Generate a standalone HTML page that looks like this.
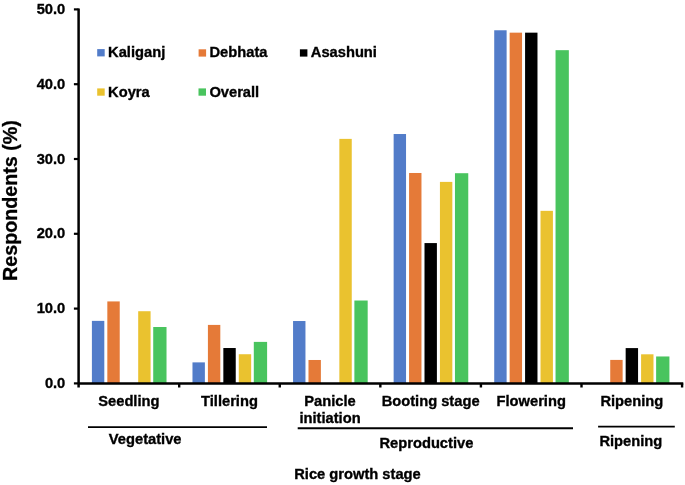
<!DOCTYPE html>
<html><head><meta charset="utf-8"><style>
html,body{margin:0;padding:0;background:#fff;}
body{width:685px;height:485px;overflow:hidden;}
svg{display:block;will-change:transform;}
.t{font-family:"Liberation Sans",sans-serif;font-weight:bold;font-size:14.7px;fill:#000;stroke:#000;stroke-width:0.35px;}
.yt{font-family:"Liberation Sans",sans-serif;font-weight:bold;font-size:19.7px;fill:#000;stroke:#000;stroke-width:0.3px;}
</style></head><body>
<svg width="685" height="485" viewBox="0 0 685 485">
<rect x="91.90" y="320.87" width="12.40" height="62.53" fill="#527CC9"/>
<rect x="107.33" y="301.42" width="12.40" height="81.98" fill="#E57A38"/>
<rect x="138.19" y="311.22" width="12.40" height="72.18" fill="#EAC22F"/>
<rect x="153.22" y="327.00" width="13.30" height="56.40" fill="#49C45E"/>
<rect x="192.48" y="362.38" width="12.40" height="21.02" fill="#527CC9"/>
<rect x="207.91" y="324.91" width="12.40" height="58.49" fill="#E57A38"/>
<rect x="223.34" y="348.02" width="12.40" height="35.38" fill="#000000"/>
<rect x="238.77" y="354.23" width="12.40" height="29.17" fill="#EAC22F"/>
<rect x="253.80" y="341.89" width="13.30" height="41.51" fill="#49C45E"/>
<rect x="293.06" y="321.02" width="12.40" height="62.38" fill="#527CC9"/>
<rect x="308.49" y="359.99" width="12.40" height="23.41" fill="#E57A38"/>
<rect x="339.35" y="138.88" width="12.40" height="244.52" fill="#EAC22F"/>
<rect x="354.38" y="300.52" width="13.30" height="82.88" fill="#49C45E"/>
<rect x="393.64" y="134.02" width="12.40" height="249.38" fill="#527CC9"/>
<rect x="409.07" y="172.99" width="12.40" height="210.41" fill="#E57A38"/>
<rect x="424.50" y="243.08" width="12.40" height="140.32" fill="#000000"/>
<rect x="439.93" y="181.89" width="12.40" height="201.51" fill="#EAC22F"/>
<rect x="454.96" y="173.21" width="13.30" height="210.19" fill="#49C45E"/>
<rect x="494.22" y="30.27" width="12.40" height="353.13" fill="#527CC9"/>
<rect x="509.65" y="32.66" width="12.40" height="350.74" fill="#E57A38"/>
<rect x="525.08" y="32.66" width="12.40" height="350.74" fill="#000000"/>
<rect x="540.51" y="210.84" width="12.40" height="172.56" fill="#EAC22F"/>
<rect x="555.54" y="50.17" width="13.30" height="333.23" fill="#49C45E"/>
<rect x="610.23" y="359.91" width="12.40" height="23.49" fill="#E57A38"/>
<rect x="625.66" y="348.09" width="12.40" height="35.31" fill="#000000"/>
<rect x="641.09" y="354.30" width="12.40" height="29.10" fill="#EAC22F"/>
<rect x="656.12" y="356.47" width="13.30" height="26.93" fill="#49C45E"/>
<line x1="78.6" y1="8.5" x2="78.6" y2="387.5" stroke="#000" stroke-width="2.5"/>
<line x1="78.6" y1="383.4" x2="683.28" y2="383.4" stroke="#000" stroke-width="2.5"/>
<line x1="73.9" y1="383.40" x2="78.6" y2="383.40" stroke="#000" stroke-width="2.2"/>
<text x="65.3" y="387.90" text-anchor="end" class="t">0.0</text>
<line x1="73.9" y1="308.60" x2="78.6" y2="308.60" stroke="#000" stroke-width="2.2"/>
<text x="65.3" y="313.10" text-anchor="end" class="t">10.0</text>
<line x1="73.9" y1="233.80" x2="78.6" y2="233.80" stroke="#000" stroke-width="2.2"/>
<text x="65.3" y="238.30" text-anchor="end" class="t">20.0</text>
<line x1="73.9" y1="159.00" x2="78.6" y2="159.00" stroke="#000" stroke-width="2.2"/>
<text x="65.3" y="163.50" text-anchor="end" class="t">30.0</text>
<line x1="73.9" y1="84.20" x2="78.6" y2="84.20" stroke="#000" stroke-width="2.2"/>
<text x="65.3" y="88.70" text-anchor="end" class="t">40.0</text>
<line x1="73.9" y1="9.40" x2="78.6" y2="9.40" stroke="#000" stroke-width="2.2"/>
<text x="65.3" y="13.90" text-anchor="end" class="t">50.0</text>
<line x1="179.18" y1="383.4" x2="179.18" y2="387.5" stroke="#000" stroke-width="2.4"/>
<line x1="279.76" y1="383.4" x2="279.76" y2="387.5" stroke="#000" stroke-width="2.4"/>
<line x1="380.34" y1="383.4" x2="380.34" y2="387.5" stroke="#000" stroke-width="2.4"/>
<line x1="480.92" y1="383.4" x2="480.92" y2="387.5" stroke="#000" stroke-width="2.4"/>
<line x1="581.50" y1="383.4" x2="581.50" y2="387.5" stroke="#000" stroke-width="2.4"/>
<line x1="682.08" y1="383.4" x2="682.08" y2="387.5" stroke="#000" stroke-width="2.4"/>
<text x="128.89" y="405.9" text-anchor="middle" class="t">Seedling</text>
<text x="229.47" y="405.9" text-anchor="middle" class="t">Tillering</text>
<text x="430.63" y="405.9" text-anchor="middle" class="t">Booting stage</text>
<text x="531.21" y="405.9" text-anchor="middle" class="t">Flowering</text>
<text x="631.79" y="405.9" text-anchor="middle" class="t">Ripening</text>
<text x="330.05" y="405.9" text-anchor="middle" class="t">Panicle</text>
<text x="330.05" y="422.9" text-anchor="middle" class="t">initiation</text>
<line x1="88" y1="427.1" x2="267" y2="427.1" stroke="#000" stroke-width="1.9"/>
<line x1="297.7" y1="428.2" x2="573" y2="428.2" stroke="#000" stroke-width="1.9"/>
<line x1="598.1" y1="426.6" x2="674.8" y2="426.6" stroke="#000" stroke-width="1.9"/>
<text x="145.2" y="444" text-anchor="middle" class="t">Vegetative</text>
<text x="426.4" y="447.8" text-anchor="middle" class="t">Reproductive</text>
<text x="630.8" y="445.6" text-anchor="middle" class="t">Ripening</text>
<text x="357.5" y="478.6" text-anchor="middle" class="t">Rice growth stage</text>
<text transform="translate(16.7,200.5) rotate(-90)" text-anchor="middle" class="yt">Respondents (%)</text>
<rect x="97.2" y="49.1" width="7.5" height="7.3" fill="#527CC9"/>
<text x="108.10" y="56.6" class="t">Kaliganj</text>
<rect x="198.6" y="49.3" width="7.5" height="7.3" fill="#E57A38"/>
<text x="209.50" y="56.6" class="t">Debhata</text>
<rect x="299.9" y="49.3" width="7.5" height="7.3" fill="#000000"/>
<text x="310.80" y="56.6" class="t">Asashuni</text>
<rect x="97.2" y="88.4" width="7.5" height="7.3" fill="#EAC22F"/>
<text x="108.10" y="96.8" class="t">Koyra</text>
<rect x="198.5" y="88.4" width="7.5" height="7.3" fill="#49C45E"/>
<text x="209.40" y="96.8" class="t">Overall</text>
</svg>
</body></html>
